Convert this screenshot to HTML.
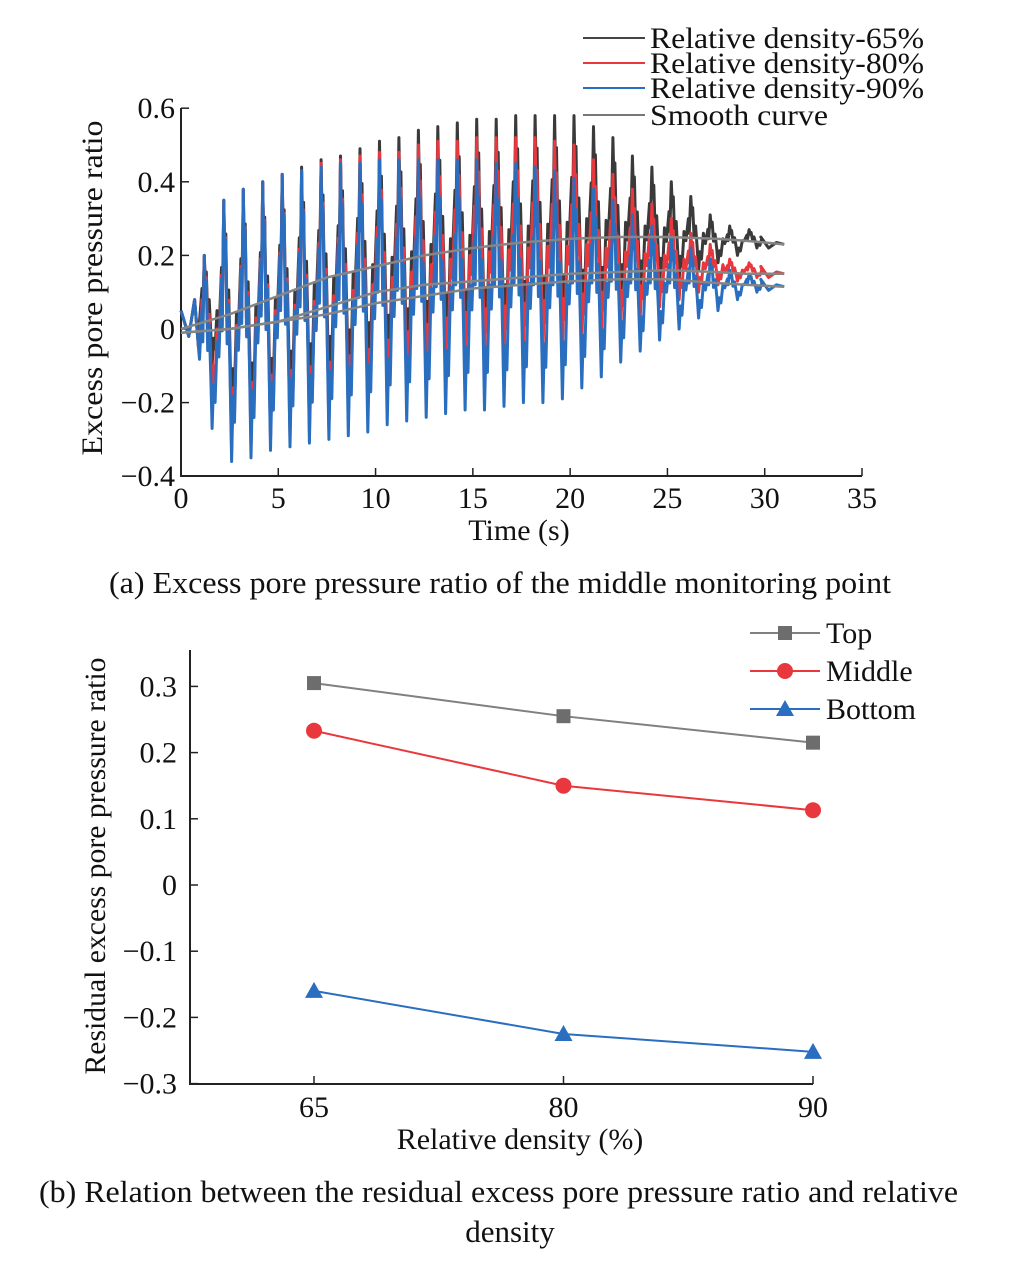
<!DOCTYPE html>
<html><head><meta charset="utf-8"><style>
html,body{margin:0;padding:0;background:#fff}
svg{display:block}
text{font-family:"Liberation Serif",serif;fill:#111}
</style></head><body>
<svg id="fig" width="1019" height="1262" viewBox="0 0 1019 1262" xmlns="http://www.w3.org/2000/svg">
<g id="chartA"></g>
<g id="chartB"></g>
<text x="109" y="593" font-size="31" textLength="782" lengthAdjust="spacingAndGlyphs">(a) Excess pore pressure ratio of the middle monitoring point</text>
<text x="39" y="1202" font-size="31" textLength="919" lengthAdjust="spacingAndGlyphs">(b) Relation between the residual excess pore pressure ratio and relative</text>
<text x="510" y="1242" font-size="31" text-anchor="middle">density</text>
</svg>
<script>
// ===== Chart A data =====
const aXTicks = [0,5,10,15,20,25,30,35];
const aYTicks = [0.6,0.4,0.2,0,-0.2,-0.4];
const aYTickLabels = ["0.6","0.4","0.2","0","\u22120.2","\u22120.4"];
const cycleTimes = [1.2,2.2,3.2,4.2,5.2,6.2,7.2,8.2,9.2,10.2,11.2,12.2,13.2,14.2,15.2,16.2,17.2,18.2,19.2,20.2,21.2,22.2,23.2,24.2,25.2,26.2,27.2,28.2,29.2];
const peaks65 = [0.2,0.35,0.38,0.40,0.42,0.44,0.46,0.47,0.49,0.51,0.52,0.54,0.55,0.56,0.57,0.57,0.58,0.58,0.58,0.58,0.55,0.52,0.47,0.44,0.40,0.36,0.31,0.28,0.27];
const peaks80 = [0.2,0.35,0.38,0.40,0.42,0.43,0.45,0.46,0.47,0.48,0.48,0.50,0.51,0.51,0.52,0.52,0.52,0.52,0.51,0.50,0.46,0.42,0.38,0.34,0.30,0.26,0.23,0.19,0.18];
const peaks90 = [0.2,0.35,0.38,0.40,0.42,0.43,0.44,0.45,0.45,0.46,0.46,0.46,0.46,0.46,0.46,0.45,0.45,0.44,0.43,0.41,0.38,0.35,0.31,0.28,0.25,0.22,0.19,0.16,0.15];
const troughs65 = [-0.1,-0.26,-0.25,-0.24,-0.22,-0.20,-0.18,-0.16,-0.14,-0.12,-0.10,-0.08,-0.06,-0.05,-0.04,-0.03,-0.02,-0.01,0.0,0.02,0.04,0.06,0.09,0.11,0.13,0.16,0.18,0.20,0.22];
const troughs80 = [-0.2,-0.33,-0.32,-0.30,-0.29,-0.28,-0.27,-0.25,-0.23,-0.2,-0.17,-0.15,-0.13,-0.11,-0.10,-0.09,-0.08,-0.07,-0.06,-0.04,-0.02,0.0,0.03,0.06,0.08,0.10,0.12,0.13,0.14];
const troughs90 = [-0.27,-0.36,-0.35,-0.33,-0.32,-0.31,-0.30,-0.29,-0.28,-0.26,-0.25,-0.24,-0.23,-0.22,-0.22,-0.21,-0.20,-0.20,-0.19,-0.16,-0.13,-0.09,-0.06,-0.03,0.0,0.03,0.05,0.08,0.1];
const finals = [0.23,0.15,0.115];
const smoothT = [0,2.5,5,7.5,10,12.5,15,17.5,20,22.5,25,27.5,29,31];
const smooth65 = [0,0.04,0.09,0.14,0.17,0.2,0.22,0.235,0.245,0.25,0.25,0.245,0.24,0.23];
const smooth80 = [-0.01,0.0,0.02,0.06,0.1,0.12,0.13,0.14,0.15,0.155,0.16,0.155,0.15,0.15];
const smooth90 = [-0.01,0.0,0.02,0.04,0.07,0.09,0.11,0.12,0.13,0.135,0.135,0.125,0.12,0.115];

// ===== Chart B data =====
const bCats = ["65","80","90"];
const bYTicks = [0.3,0.2,0.1,0,-0.1,-0.2,-0.3];
const bYTickLabels = ["0.3","0.2","0.1","0","\u22120.1","\u22120.2","\u22120.3"];
const topVals = [0.305,0.255,0.215];
const middleVals = [0.233,0.150,0.113];
const bottomVals = [-0.160,-0.225,-0.252];

const NS="http://www.w3.org/2000/svg";
function mk(parent,tag,attrs,txt){const e=document.createElementNS(NS,tag);for(const k in attrs)e.setAttribute(k,attrs[k]);if(txt!==undefined)e.textContent=txt;parent.appendChild(e);return e;}

// ---- Chart A ----
const A=document.getElementById('chartA');
const ax0=181, ax1=862, ay0=476, ayTop=108;
const axX=t=>ax0+(t/35)*(ax1-ax0);
const axY=v=>329-(v/0.2)*73.6;
let e;
e=mk(A,'path',{d:`M${ax0},${ayTop} V${ay0} H${ax1}`,fill:'none',stroke:'#222','stroke-width':2});


aXTicks.forEach(t=>{
  e=mk(A,'line',{x1:axX(t),x2:axX(t),y1:ay0,y2:ay0-8,stroke:'#222','stroke-width':1.5});
  
  
  e=mk(A,'text',{x:axX(t),y:ay0+32,'font-size':30,'text-anchor':'middle'},String(t));
  
  
});
aYTicks.forEach((v,i)=>{
  e=mk(A,'line',{x1:ax0,x2:ax0+8,y1:axY(v),y2:axY(v),stroke:'#222','stroke-width':1.5});
  
  
  e=mk(A,'text',{x:ax0-6,y:axY(v)+10,'font-size':30,'text-anchor':'end'},aYTickLabels[i]);
  
  
});
e=mk(A,'text',{x:519,y:540,'font-size':30,'text-anchor':'middle'},'Time (s)');


e=mk(A,'text',{x:0,y:0,'font-size':30,'text-anchor':'middle',textLength:335,lengthAdjust:'spacingAndGlyphs',transform:'translate(102,288) rotate(-90)'},'Excess pore pressure ratio');



function series(peaks,troughs,fin){
  let pts=[[0,0.05],[0.4,-0.02],[0.7,0.08],[0.9,-0.05]];
  for(let i=0;i<cycleTimes.length;i++){
    const t=cycleTimes[i], p=peaks[i], tr=troughs[i];
    const mid=(p+tr)/2, amp=(p-tr);
    pts.push([t-0.25,mid-amp*0.1]);
    pts.push([t-0.12,mid+amp*0.2]);
    pts.push([t-0.08,mid]);
    pts.push([t,p]);
    pts.push([t+0.05,mid+amp*0.25]);
    pts.push([t+0.1,mid+amp*0.35]);
    pts.push([t+0.17,mid-amp*0.05]);
    pts.push([t+0.25,mid+amp*0.1]);
    pts.push([t+0.33,mid-amp*0.2]);
    pts.push([t+0.4,tr]);
    pts.push([t+0.47,mid-amp*0.25]);
    pts.push([t+0.55,mid-amp*0.35]);
    pts.push([t+0.65,mid]);
  }
  pts.push([29.8,fin+0.02],[30.2,fin-0.01],[30.6,fin+0.005],[31,fin]);
  return pts.map(p=>`${axX(p[0]).toFixed(1)},${axY(p[1]).toFixed(1)}`).join(' ');
}
const sers=[[peaks65,troughs65,finals[0],'#3a3a3a','series-65'],[peaks80,troughs80,finals[1],'#e8383d','series-80'],[peaks90,troughs90,finals[2],'#2a6ebf','series-90']];
sers.forEach(s=>{
  e=mk(A,'polyline',{points:series(s[0],s[1],s[2]),fill:'none',stroke:s[3],'stroke-width':3,'stroke-linejoin':'round'});
  
  
});
[smooth65,smooth80,smooth90].forEach((arr,k)=>{
  const pts=smoothT.map((t,i)=>`${axX(t).toFixed(1)},${axY(arr[i]).toFixed(1)}`).join(' ');
  e=mk(A,'polyline',{points:pts,fill:'none',stroke:'#858585','stroke-width':2.5});
  
  
});
const legA=[['Relative density-65%','#444',38],['Relative density-80%','#e8383d',63],['Relative density-90%','#2a6ebf',88],['Smooth curve','#777',115]];
legA.forEach(l=>{
  e=mk(A,'line',{x1:583,x2:645,y1:l[2],y2:l[2],stroke:l[1],'stroke-width':2});
  
  
  const attrs={x:650,y:l[2]+10,'font-size':30};
  if(l[0].startsWith('Rel')){attrs.textLength=274;attrs.lengthAdjust='spacingAndGlyphs';}
  else {attrs.textLength=178;attrs.lengthAdjust='spacingAndGlyphs';}
  e=mk(A,'text',attrs,l[0]);
  
  
});

// ---- Chart B ----
const B=document.getElementById('chartB');
const bx0=190, bx1=813, by0=1084, byTop=650;
const bX=i=>314+i*249.5;
const bY=v=>885-(v/0.1)*66.2;
e=mk(B,'path',{d:`M${bx0},${byTop} V${by0} H${bx1}`,fill:'none',stroke:'#222','stroke-width':2});


bCats.forEach((c,i)=>{
  e=mk(B,'line',{x1:bX(i),x2:bX(i),y1:by0,y2:by0-8,stroke:'#222','stroke-width':1.5});
  
  
  e=mk(B,'text',{x:bX(i),y:1117,'font-size':30,'text-anchor':'middle'},c);
  
  
});
bYTicks.forEach((v,i)=>{
  e=mk(B,'line',{x1:bx0,x2:bx0+8,y1:bY(v),y2:bY(v),stroke:'#222','stroke-width':1.5});
  
  
  e=mk(B,'text',{x:bx0-13,y:bY(v)+10,'font-size':30,'text-anchor':'end'},bYTickLabels[i]);
  
  
});
e=mk(B,'text',{x:520,y:1149,'font-size':30,'text-anchor':'middle'},'Relative density (%)');


e=mk(B,'text',{x:0,y:0,'font-size':30,'text-anchor':'middle',textLength:417,lengthAdjust:'spacingAndGlyphs',transform:'translate(105,866) rotate(-90)'},'Residual excess pore pressure ratio');


function marker(g,type,x,y,col){
  if(type==='sq') return mk(g,'rect',{x:x-7,y:y-7,width:14,height:14,fill:col});
  if(type==='ci') return mk(g,'circle',{cx:x,cy:y,r:8,fill:col});
  return mk(g,'path',{d:`M${x},${y-9} L${x+9},${y+7} L${x-9},${y+7} Z`,fill:col});
}
const bSer=[[topVals,'#808080','#6d6d6d','sq','top-series'],[middleVals,'#e8383d','#e8383d','ci','middle-series'],[bottomVals,'#2a6ebf','#2a6ebf','tr','bottom-series']];
bSer.forEach(s=>{
  const pts=s[0].map((v,i)=>`${bX(i)},${bY(v)}`).join(' ');
  e=mk(B,'polyline',{points:pts,fill:'none',stroke:s[1],'stroke-width':2});
  
  
  s[0].forEach((v,i)=>{
    e=marker(B,s[3],bX(i),bY(v),s[2]);
    
    
  });
});
const legB=[['Top','#808080','#6d6d6d','sq',633],['Middle','#e8383d','#e8383d','ci',671],['Bottom','#2a6ebf','#2a6ebf','tr',709]];
legB.forEach(l=>{
  e=mk(B,'line',{x1:750,x2:820,y1:l[4],y2:l[4],stroke:l[1],'stroke-width':2});
  
  
  e=marker(B,l[3],785,l[4],l[2]);
  
  
  e=mk(B,'text',{x:826,y:l[4]+10,'font-size':30},l[0]);
  
  
});
</script>
</body></html>
